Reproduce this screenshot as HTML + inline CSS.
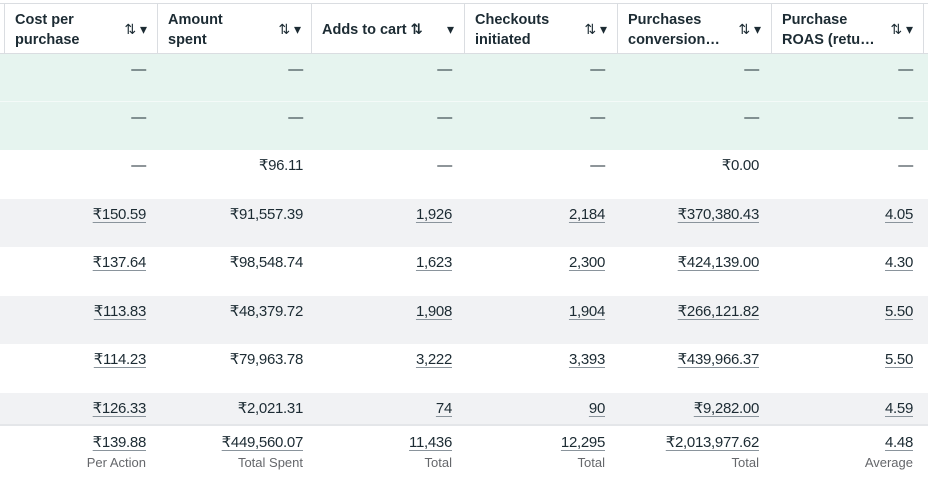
<!DOCTYPE html>
<html><head><meta charset="utf-8"><style>
body{margin:0;width:928px;height:500px;overflow:hidden;background:#fff;font-family:"Liberation Sans","DejaVu Sans",sans-serif;color:#1c2b33;position:relative}
.bg{position:absolute;left:0;width:928px}
.h{position:absolute;top:3px;height:50px;border-left:1px solid #dadde1;box-sizing:border-box;font-size:14.5px;font-weight:bold;line-height:20px}
.h .t{position:absolute;left:10px;top:7px}
.h .i{position:absolute;right:10px;top:16px;font-size:14px;font-weight:normal}
.c{position:absolute;text-align:right;font-size:15px;line-height:18px;letter-spacing:-0.3px}
.u{text-decoration:underline;text-decoration-color:#8a949c;text-underline-offset:3px}
.l{position:absolute;text-align:right;font-size:13px;color:#65676b}
</style></head><body>
<div class="bg" style="top:3px;height:1px;background:#dadde1"></div>
<div class="bg" style="top:53px;height:1px;background:#dadde1"></div>
<div class="bg" style="top:54px;height:96px;background:#e6f4ef"></div>
<div class="bg" style="top:101px;height:1px;background:#f4faf8"></div>
<div class="bg" style="top:199px;height:48px;background:#f1f2f4"></div>
<div class="bg" style="top:296px;height:48px;background:#f1f2f4"></div>
<div class="bg" style="top:393px;height:31px;background:#f1f2f4"></div>
<div class="bg" style="top:424px;height:2px;background:#e4e6e9"></div>

<div class="h" style="left:4px;width:153px"><div class="t">Cost per<br>purchase</div><div class="i">⇅ ▾</div></div>
<div class="h" style="left:157px;width:154px"><div class="t">Amount<br>spent</div><div class="i">⇅ ▾</div></div>
<div class="h" style="left:311px;width:153px"><div class="t" style="top:17px">Adds to cart ⇅</div><div class="i">▾</div></div>
<div class="h" style="left:464px;width:153px"><div class="t">Checkouts<br>initiated</div><div class="i">⇅ ▾</div></div>
<div class="h" style="left:617px;width:154px"><div class="t">Purchases<br>conversion…</div><div class="i">⇅ ▾</div></div>
<div class="h" style="left:771px;width:153px;border-right:1px solid #dadde1"><div class="t">Purchase<br>ROAS (retu…</div><div class="i">⇅ ▾</div></div>

<div id="rows"></div>
<script>
var cols=[146,303,452,605,759,913];
var rows=[
["—","—","—","—","—","—"],
["—","—","—","—","—","—"],
["—","₹96.11","—","—","₹0.00","—"],
["₹150.59","₹91,557.39","1,926","2,184","₹370,380.43","4.05"],
["₹137.64","₹98,548.74","1,623","2,300","₹424,139.00","4.30"],
["₹113.83","₹48,379.72","1,908","1,904","₹266,121.82","5.50"],
["₹114.23","₹79,963.78","3,222","3,393","₹439,966.37","5.50"],
["₹126.33","₹2,021.31","74","90","₹9,282.00","4.59"]];
var tops=[61,109,157,206,254,303,351,400];
var h="";
rows.forEach(function(r,i){r.forEach(function(v,j){
var u=(v!="—"&&j!=1&&!(i==2))?" u":"";
h+='<div class="c'+u+'" style="top:'+tops[i]+'px;right:'+(928-cols[j])+'px">'+v+'</div>';});});
var f=["₹139.88","₹449,560.07","11,436","12,295","₹2,013,977.62","4.48"];
var fl=["Per Action","Total Spent","Total","Total","Total","Average"];
f.forEach(function(v,j){h+='<div class="c u" style="top:434px;right:'+(928-cols[j])+'px">'+v+'</div>';
h+='<div class="l" style="top:455px;right:'+(928-cols[j])+'px">'+fl[j]+'</div>';});
document.getElementById("rows").innerHTML=h;
</script>
</body></html>
